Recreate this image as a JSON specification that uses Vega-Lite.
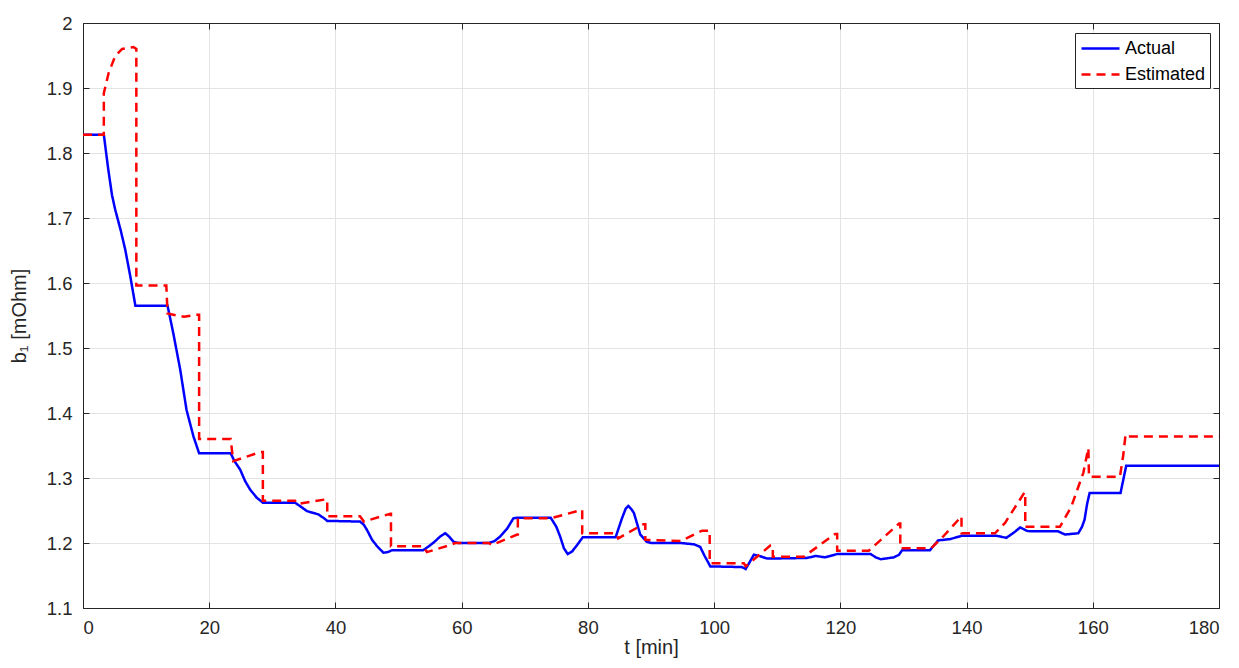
{
  "$schema": "https://vega.github.io/schema/vega-lite/v6.json",
  "autosize": {"type": "none"},
  "width": 1136,
  "height": 585,
  "padding": {"left": 83, "top": 23, "right": 20, "bottom": 60},
  "background": "white",
  "config": {
    "font": "Liberation Sans",
    "view": {"stroke": "#262626", "strokeWidth": 1},
    "axis": {
      "labelFont": "Liberation Sans", "labelFontSize": 18.5, "labelColor": "#262626",
      "titleFont": "Liberation Sans", "titleFontSize": 20, "titleFontWeight": "normal", "titleColor": "#262626",
      "domainColor": "#262626", "tickColor": "#262626", "gridColor": "#e3e3e3", "gridOpacity": 1
    }
  },
  "data": {"values": [
    {"s":"Actual","i":1,"t":0,"v":1.828},{"s":"Actual","i":2,"t":3.3,"v":1.828},{"s":"Actual","i":3,"t":4.0,"v":1.775},{"s":"Actual","i":4,"t":4.6,"v":1.735},{"s":"Actual","i":5,"t":5.1,"v":1.713},{"s":"Actual","i":6,"t":6.0,"v":1.68},{"s":"Actual","i":7,"t":6.7,"v":1.651},{"s":"Actual","i":8,"t":7.5,"v":1.61},{"s":"Actual","i":9,"t":8.3,"v":1.565},{"s":"Actual","i":10,"t":13.4,"v":1.565},
    {"s":"Actual","i":11,"t":14.3,"v":1.523},{"s":"Actual","i":12,"t":15.4,"v":1.467},{"s":"Actual","i":13,"t":16.4,"v":1.405},{"s":"Actual","i":14,"t":17.5,"v":1.364},{"s":"Actual","i":15,"t":18.4,"v":1.338},{"s":"Actual","i":16,"t":23.4,"v":1.338},{"s":"Actual","i":17,"t":24.0,"v":1.326},{"s":"Actual","i":18,"t":24.9,"v":1.313},{"s":"Actual","i":19,"t":25.7,"v":1.295},{"s":"Actual","i":20,"t":26.5,"v":1.282},
    {"s":"Actual","i":21,"t":27.5,"v":1.27},{"s":"Actual","i":22,"t":28.5,"v":1.262},{"s":"Actual","i":23,"t":33.6,"v":1.262},{"s":"Actual","i":24,"t":34.5,"v":1.256},{"s":"Actual","i":25,"t":35.5,"v":1.249},{"s":"Actual","i":26,"t":37.3,"v":1.244},{"s":"Actual","i":27,"t":38.2,"v":1.238},{"s":"Actual","i":28,"t":38.7,"v":1.234},{"s":"Actual","i":29,"t":43.9,"v":1.233},{"s":"Actual","i":30,"t":44.5,"v":1.228},
    {"s":"Actual","i":31,"t":45.0,"v":1.22},{"s":"Actual","i":32,"t":45.8,"v":1.205},{"s":"Actual","i":33,"t":46.6,"v":1.195},{"s":"Actual","i":34,"t":47.6,"v":1.185},{"s":"Actual","i":35,"t":48.3,"v":1.186},{"s":"Actual","i":36,"t":49.0,"v":1.189},{"s":"Actual","i":37,"t":53.9,"v":1.189},{"s":"Actual","i":38,"t":54.8,"v":1.195},{"s":"Actual","i":39,"t":55.6,"v":1.201},{"s":"Actual","i":40,"t":56.6,"v":1.21},
    {"s":"Actual","i":41,"t":57.4,"v":1.215},{"s":"Actual","i":42,"t":58.0,"v":1.21},{"s":"Actual","i":43,"t":58.7,"v":1.202},{"s":"Actual","i":44,"t":59.5,"v":1.2},{"s":"Actual","i":45,"t":64.3,"v":1.2},{"s":"Actual","i":46,"t":65.2,"v":1.203},{"s":"Actual","i":47,"t":66.1,"v":1.21},{"s":"Actual","i":48,"t":67.2,"v":1.222},{"s":"Actual","i":49,"t":68.2,"v":1.238},{"s":"Actual","i":50,"t":69,"v":1.239},
    {"s":"Actual","i":51,"t":74.1,"v":1.239},{"s":"Actual","i":52,"t":75.0,"v":1.225},{"s":"Actual","i":53,"t":75.6,"v":1.21},{"s":"Actual","i":54,"t":76.2,"v":1.192},{"s":"Actual","i":55,"t":76.8,"v":1.183},{"s":"Actual","i":56,"t":77.5,"v":1.187},{"s":"Actual","i":57,"t":78.3,"v":1.197},{"s":"Actual","i":58,"t":79.2,"v":1.209},{"s":"Actual","i":59,"t":84.4,"v":1.209},{"s":"Actual","i":60,"t":85.4,"v":1.238},
    {"s":"Actual","i":61,"t":86.0,"v":1.253},{"s":"Actual","i":62,"t":86.4,"v":1.257},{"s":"Actual","i":63,"t":86.9,"v":1.252},{"s":"Actual","i":64,"t":87.3,"v":1.246},{"s":"Actual","i":65,"t":88.3,"v":1.213},{"s":"Actual","i":66,"t":89.3,"v":1.202},{"s":"Actual","i":67,"t":90.0,"v":1.2},{"s":"Actual","i":68,"t":94.7,"v":1.2},{"s":"Actual","i":69,"t":96.8,"v":1.198},{"s":"Actual","i":70,"t":97.8,"v":1.194},
    {"s":"Actual","i":71,"t":98.5,"v":1.18},{"s":"Actual","i":72,"t":99.4,"v":1.164},{"s":"Actual","i":73,"t":104.4,"v":1.163},{"s":"Actual","i":74,"t":105.0,"v":1.16},{"s":"Actual","i":75,"t":105.6,"v":1.17},{"s":"Actual","i":76,"t":106.3,"v":1.182},{"s":"Actual","i":77,"t":107.2,"v":1.18},{"s":"Actual","i":78,"t":108.4,"v":1.176},{"s":"Actual","i":79,"t":114.7,"v":1.177},{"s":"Actual","i":80,"t":116.1,"v":1.18},
    {"s":"Actual","i":81,"t":117.6,"v":1.178},{"s":"Actual","i":82,"t":119.5,"v":1.183},{"s":"Actual","i":83,"t":124.8,"v":1.183},{"s":"Actual","i":84,"t":125.6,"v":1.178},{"s":"Actual","i":85,"t":126.4,"v":1.175},{"s":"Actual","i":86,"t":128.5,"v":1.178},{"s":"Actual","i":87,"t":129.3,"v":1.182},{"s":"Actual","i":88,"t":129.8,"v":1.189},{"s":"Actual","i":89,"t":134.2,"v":1.189},{"s":"Actual","i":90,"t":135.5,"v":1.204},
    {"s":"Actual","i":91,"t":137.4,"v":1.206},{"s":"Actual","i":92,"t":139.2,"v":1.211},{"s":"Actual","i":93,"t":144.8,"v":1.211},{"s":"Actual","i":94,"t":146.3,"v":1.208},{"s":"Actual","i":95,"t":147.5,"v":1.216},{"s":"Actual","i":96,"t":148.5,"v":1.224},{"s":"Actual","i":97,"t":149.5,"v":1.219},{"s":"Actual","i":98,"t":150,"v":1.218},{"s":"Actual","i":99,"t":154.5,"v":1.218},{"s":"Actual","i":100,"t":155.6,"v":1.213},
    {"s":"Actual","i":101,"t":157.7,"v":1.215},{"s":"Actual","i":102,"t":158.3,"v":1.225},{"s":"Actual","i":103,"t":158.7,"v":1.236},{"s":"Actual","i":104,"t":159.1,"v":1.26},{"s":"Actual","i":105,"t":159.5,"v":1.277},{"s":"Actual","i":106,"t":164.4,"v":1.277},{"s":"Actual","i":107,"t":165.3,"v":1.319},{"s":"Actual","i":108,"t":180,"v":1.319},
    {"s":"Estimated","i":201,"t":0,"v":1.828},{"s":"Estimated","i":202,"t":3.3,"v":1.828},{"s":"Estimated","i":203,"t":3.3,"v":1.892},{"s":"Estimated","i":204,"t":4.06,"v":1.923},{"s":"Estimated","i":205,"t":5.1,"v":1.949},{"s":"Estimated","i":206,"t":6.2,"v":1.96},{"s":"Estimated","i":207,"t":8.0,"v":1.963},{"s":"Estimated","i":208,"t":8.45,"v":1.96},{"s":"Estimated","i":209,"t":8.45,"v":1.596},{"s":"Estimated","i":210,"t":13.2,"v":1.596},
    {"s":"Estimated","i":211,"t":13.4,"v":1.553},{"s":"Estimated","i":212,"t":16.0,"v":1.548},{"s":"Estimated","i":213,"t":17.8,"v":1.551},{"s":"Estimated","i":214,"t":18.4,"v":1.551},{"s":"Estimated","i":215,"t":18.4,"v":1.36},{"s":"Estimated","i":216,"t":23.4,"v":1.36},{"s":"Estimated","i":217,"t":23.8,"v":1.326},{"s":"Estimated","i":218,"t":28.1,"v":1.34},{"s":"Estimated","i":219,"t":28.5,"v":1.34},{"s":"Estimated","i":220,"t":28.5,"v":1.265},
    {"s":"Estimated","i":221,"t":33.6,"v":1.265},{"s":"Estimated","i":222,"t":34.0,"v":1.26},{"s":"Estimated","i":223,"t":38.4,"v":1.267},{"s":"Estimated","i":224,"t":38.7,"v":1.267},{"s":"Estimated","i":225,"t":38.7,"v":1.241},{"s":"Estimated","i":226,"t":43.9,"v":1.241},{"s":"Estimated","i":227,"t":44.5,"v":1.233},{"s":"Estimated","i":228,"t":48.7,"v":1.245},{"s":"Estimated","i":229,"t":48.8,"v":1.245},{"s":"Estimated","i":230,"t":48.8,"v":1.195},
    {"s":"Estimated","i":231,"t":53.9,"v":1.195},{"s":"Estimated","i":232,"t":54.5,"v":1.186},{"s":"Estimated","i":233,"t":58.2,"v":1.197},{"s":"Estimated","i":234,"t":59,"v":1.2},{"s":"Estimated","i":235,"t":64.3,"v":1.2},{"s":"Estimated","i":236,"t":64.8,"v":1.197},{"s":"Estimated","i":237,"t":68.8,"v":1.213},{"s":"Estimated","i":238,"t":68.9,"v":1.213},{"s":"Estimated","i":239,"t":68.9,"v":1.238},{"s":"Estimated","i":240,"t":74.1,"v":1.238},
    {"s":"Estimated","i":241,"t":78.3,"v":1.249},{"s":"Estimated","i":242,"t":79.1,"v":1.251},{"s":"Estimated","i":243,"t":79.1,"v":1.215},{"s":"Estimated","i":244,"t":84.4,"v":1.215},{"s":"Estimated","i":245,"t":84.8,"v":1.207},{"s":"Estimated","i":246,"t":88.8,"v":1.229},{"s":"Estimated","i":247,"t":89.1,"v":1.229},{"s":"Estimated","i":248,"t":89.1,"v":1.205},{"s":"Estimated","i":249,"t":94.7,"v":1.203},{"s":"Estimated","i":250,"t":98.1,"v":1.219},
    {"s":"Estimated","i":251,"t":99.3,"v":1.219},{"s":"Estimated","i":252,"t":99.3,"v":1.169},{"s":"Estimated","i":253,"t":104.7,"v":1.169},{"s":"Estimated","i":254,"t":105.0,"v":1.164},{"s":"Estimated","i":255,"t":108.9,"v":1.196},{"s":"Estimated","i":256,"t":109.3,"v":1.196},{"s":"Estimated","i":257,"t":109.3,"v":1.179},{"s":"Estimated","i":258,"t":114.2,"v":1.179},{"s":"Estimated","i":259,"t":119.2,"v":1.214},{"s":"Estimated","i":260,"t":119.5,"v":1.214},
    {"s":"Estimated","i":261,"t":119.5,"v":1.188},{"s":"Estimated","i":262,"t":124.5,"v":1.188},{"s":"Estimated","i":263,"t":129.3,"v":1.23},{"s":"Estimated","i":264,"t":129.5,"v":1.23},{"s":"Estimated","i":265,"t":129.5,"v":1.192},{"s":"Estimated","i":266,"t":134.4,"v":1.192},{"s":"Estimated","i":267,"t":136.3,"v":1.21},{"s":"Estimated","i":268,"t":139.2,"v":1.241},{"s":"Estimated","i":269,"t":139.2,"v":1.215},{"s":"Estimated","i":270,"t":144.5,"v":1.215},
    {"s":"Estimated","i":271,"t":146.1,"v":1.231},{"s":"Estimated","i":272,"t":149.2,"v":1.278},{"s":"Estimated","i":273,"t":149.3,"v":1.278},{"s":"Estimated","i":274,"t":149.3,"v":1.225},{"s":"Estimated","i":275,"t":154.8,"v":1.225},{"s":"Estimated","i":276,"t":156.6,"v":1.256},{"s":"Estimated","i":277,"t":158.5,"v":1.308},{"s":"Estimated","i":278,"t":159.3,"v":1.346},{"s":"Estimated","i":279,"t":159.4,"v":1.302},{"s":"Estimated","i":280,"t":164.3,"v":1.302},
    {"s":"Estimated","i":281,"t":164.8,"v":1.333},{"s":"Estimated","i":282,"t":165.2,"v":1.367},{"s":"Estimated","i":283,"t":165.5,"v":1.364},{"s":"Estimated","i":284,"t":180,"v":1.364}
  ]},
  "resolve": {"axis": {"x": "independent", "y": "independent"}},
  "layer": [
    {
      "mark": {"type": "line", "strokeWidth": 2.5, "clip": true},
      "encoding": {
        "x": {"field": "t", "type": "quantitative", "scale": {"domain": [0, 180], "nice": false, "zero": false},
              "axis": {"title": "t [min]", "values": [0,20,40,60,80,100,120,140,160,180], "tickSize": -6, "labelPadding": 16, "titlePadding": 1, "grid": true}},
        "y": {"field": "v", "type": "quantitative", "scale": {"domain": [1.1, 2], "nice": false, "zero": false},
              "axis": {"title": "b₁ [mOhm]", "values": [1.1,1.2,1.3,1.4,1.5,1.6,1.7,1.8,1.9,2], "format": "~g", "tickSize": -6, "labelPadding": 17, "titlePadding": 17, "grid": true}},
        "color": {"field": "s", "type": "nominal", "scale": {"domain": ["Actual", "Estimated"], "range": ["#0000ff", "#ff0000"]},
                  "legend": {"title": null, "orient": "none", "legendX": 992, "legendY": 10, "symbolType": "M-0.9,0H2.9", "symbolSize": 400, "symbolStrokeWidth": 2.5,
                             "labelFontSize": 18, "labelFont": "Liberation Sans", "labelColor": "#000000", "labelOffset": 23, "rowPadding": 5,
                             "padding": 4, "strokeColor": "#262626", "fillColor": "white"}},
        "strokeDash": {"field": "s", "type": "nominal", "scale": {"domain": ["Actual", "Estimated"], "range": [[1, 0], [9, 6]]}, "legend": null},
        "order": {"field": "i", "type": "quantitative"}
      }
    },
    {
      "mark": {"type": "line", "opacity": 0},
      "encoding": {
        "x": {"field": "t", "type": "quantitative", "axis": {"orient": "top", "title": null, "labels": false, "grid": false, "tickSize": -6, "values": [0,20,40,60,80,100,120,140,160,180]}},
        "y": {"field": "v", "type": "quantitative", "axis": {"orient": "right", "title": null, "labels": false, "grid": false, "tickSize": -6, "values": [1.1,1.2,1.3,1.4,1.5,1.6,1.7,1.8,1.9,2]}},
        "detail": {"field": "s", "type": "nominal"},
        "order": {"field": "i", "type": "quantitative"}
      }
    }
  ]
}
